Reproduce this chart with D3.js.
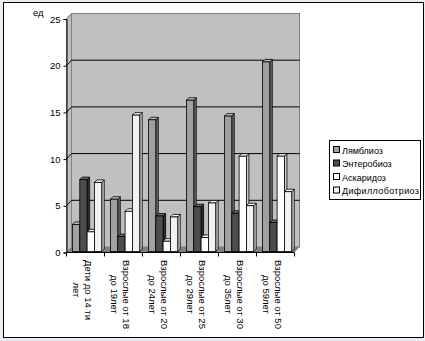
<!DOCTYPE html>
<html>
<head>
<meta charset="utf-8">
<script src="https://cdn.jsdelivr.net/npm/d3@7"></script>
<style>
  body { margin: 0; background: #ebebf0; }
  svg { display: block; }
  text { font-family: "Liberation Sans", Arial, sans-serif; fill: #000; }
</style>
</head>
<body>
<svg id="chart" width="425" height="341"></svg>
<script>
// Age groups (x categories) and their wrapped label lines
const categories = ["Дети до 14 ти лет", "Взрослые от 18 до 19лет", "Взрослые от 20 до 24лет",
                    "Взрослые от 25 до 29лет", "Взрослые от 30 до 35лет", "Взрослые от 50 до 59лет"];
const categoryLines = [
  ["Дети до 14 ти", "лет"],
  ["Взрослые от 18", "до 19лет"],
  ["Взрослые от 20", "до 24лет"],
  ["Взрослые от 25", "до 29лет"],
  ["Взрослые от 30", "до 35лет"],
  ["Взрослые от 50", "до 59лет"]
];

// Series
const seriesNames = ["Лямблиоз", "Энтеробиоз", "Аскаридоз", "Дифиллоботриоз"];
const lamblioz      = [2.9, 5.6, 14.1, 16.2, 14.5, 20.3];
const enterobioz    = [7.7, 1.6, 3.8, 4.8, 4.1, 3.1];
const askaridoz     = [2.1, 4.3, 1.1, 1.5, 10.2, 10.2];
const difillobotrioz = [7.4, 14.6, 3.7, 5.2, 4.9, 6.4];
const seriesValues = [lamblioz, enterobioz, askaridoz, difillobotrioz];

// Value axis
const yTicks = [0, 5, 10, 15, 20, 25];
const unitLabel = "ед";

// Face colours per series: front, side, top
const palette = [
  { front: "#a0a0a0", side: "#6e6e6e", top: "#c4c4c4" },
  { front: "#4d4d4d", side: "#2e2e2e", top: "#6a6a6a" },
  { front: "#ffffff", side: "#d0d0d0", top: "#ffffff" },
  { front: "#f2f2f2", side: "#c8c8c8", top: "#fafafa" }
];

const svg = d3.select("#chart");

// outer frame
svg.append("rect")
  .attr("x", 3.5).attr("y", 2.5).attr("width", 420).attr("height", 335)
  .attr("fill", "#fff").attr("stroke", "#000");

// plot geometry (front plane) and depth offset of the back wall
const x0 = 66.5, x1 = 294.5;
const wall = { dx: 5, dy: -5.5 };
const barDepth = { dx: 1.6, dy: -1 };
const face = { dx: 2.5, dy: -2.5 };

const y = d3.scaleLinear().domain([0, 25]).range([252.5, 19]);
const x = d3.scaleBand().domain(categories).range([x0, x1])
  .paddingInner(0.23).paddingOuter(0.115);
const xs = d3.scaleBand().domain(seriesNames).range([0, x.bandwidth()]);

const pts = a => a.map(p => p.join(",")).join(" ");

// left side wall
svg.append("polygon")
  .attr("points", pts([[x0, y(0)], [x0, y(25)], [x0 + wall.dx, y(25) + wall.dy], [x0 + wall.dx, y(0) + wall.dy]]))
  .attr("fill", "#c0c0c0").attr("stroke", "#808080");

// back wall
svg.append("rect")
  .attr("x", x0 + wall.dx).attr("y", y(25) + wall.dy)
  .attr("width", x1 - x0).attr("height", y(0) - y(25))
  .attr("fill", "#c0c0c0").attr("stroke", "#808080");

// floor
svg.append("polygon")
  .attr("points", pts([[x0, y(0)], [x1, y(0)], [x1 + wall.dx, y(0) + wall.dy], [x0 + wall.dx, y(0) + wall.dy]]))
  .attr("fill", "#808080");

// gridlines across side and back wall
svg.append("g").selectAll("polyline").data(yTicks.filter(t => t > 0)).join("polyline")
  .attr("points", t => pts([[x0, y(t)], [x0 + wall.dx, y(t) + wall.dy], [x1 + wall.dx, y(t) + wall.dy]]))
  .attr("fill", "none").attr("stroke", t => t === 25 ? "#808080" : "#000").attr("stroke-width", 1);

// value axis
const yAxis = svg.append("g").attr("transform", `translate(${x0},0)`)
  .call(d3.axisLeft(y).tickValues(yTicks).tickSize(3).tickPadding(3).tickFormat(d3.format("d")));
yAxis.selectAll("path, line").attr("stroke", "#000");
yAxis.selectAll("text").attr("font-size", 9.5).attr("font-family", "Liberation Sans, Arial, sans-serif");

svg.append("text").attr("x", 33).attr("y", 16).attr("font-size", 9.5).text(unitLabel);

// bars
const groups = svg.append("g").selectAll("g").data(categories).join("g")
  .attr("transform", c => `translate(${x(c) + barDepth.dx},${barDepth.dy})`);

groups.each(function (c, ci) {
  const g = d3.select(this);
  seriesNames.forEach((s, si) => {
    const v = seriesValues[si][ci];
    const bx = xs(s), bw = xs.bandwidth();
    const top = y(v), base = y(0);
    const col = palette[si];
    g.append("polygon")
      .attr("points", pts([[bx + bw, top], [bx + bw + face.dx, top + face.dy], [bx + bw + face.dx, base + face.dy], [bx + bw, base]]))
      .attr("fill", col.side).attr("stroke", "#000").attr("stroke-width", 0.8);
    g.append("polygon")
      .attr("points", pts([[bx, top], [bx + face.dx, top + face.dy], [bx + bw + face.dx, top + face.dy], [bx + bw, top]]))
      .attr("fill", col.top).attr("stroke", "#000").attr("stroke-width", 0.8);
    g.append("rect")
      .attr("x", bx).attr("y", top).attr("width", bw).attr("height", base - top)
      .attr("fill", col.front).attr("stroke", "#000").attr("stroke-width", 0.8);
  });
});

// category axis
svg.append("line").attr("x1", x0).attr("x2", x1).attr("y1", y(0)).attr("y2", y(0)).attr("stroke", "#000");
const step = x.step();
svg.append("g").selectAll("line").data(d3.range(categories.length + 1)).join("line")
  .attr("x1", i => x0 + i * step).attr("x2", i => x0 + i * step)
  .attr("y1", y(0)).attr("y2", y(0) + 4).attr("stroke", "#000");

// rotated category labels
const labels = svg.append("g").selectAll("g").data(categories).join("g");
labels.each(function (c, ci) {
  const g = d3.select(this);
  const cx = x0 + ci * step + step / 2;
  const lines = categoryLines[ci];
  const texts = lines.map((ln, li) =>
    g.append("text").attr("font-size", 9.5).attr("text-anchor", "middle").text(ln)
      .datum(li));
  const maxLen = d3.max(texts, t => t.node().getComputedTextLength());
  const cy = 260 + maxLen / 2;
  texts.forEach((t, li) => {
    const bx = cx - 0.5 - li * 12.5;
    t.attr("transform", `translate(${bx},${cy}) rotate(90)`);
  });
});

// legend
const lg = svg.append("g");
lg.append("rect").attr("x", 329.5).attr("y", 140.5).attr("width", 91).attr("height", 59)
  .attr("fill", "#fff").attr("stroke", "#000");
const rowY = d3.scalePoint().domain(seriesNames).range([150, 190.5]);
seriesNames.forEach((s, si) => {
  lg.append("rect").attr("x", 333.5).attr("y", rowY(s) - 3.5).attr("width", 6).attr("height", 6)
    .attr("fill", palette[si].front).attr("stroke", "#000");
  lg.append("text").attr("x", 342).attr("y", rowY(s) + 3.5).attr("font-size", 9)
    .attr("textLength", s.length > 12 ? 77 : null).text(s);
});
</script>
</body>
</html>
